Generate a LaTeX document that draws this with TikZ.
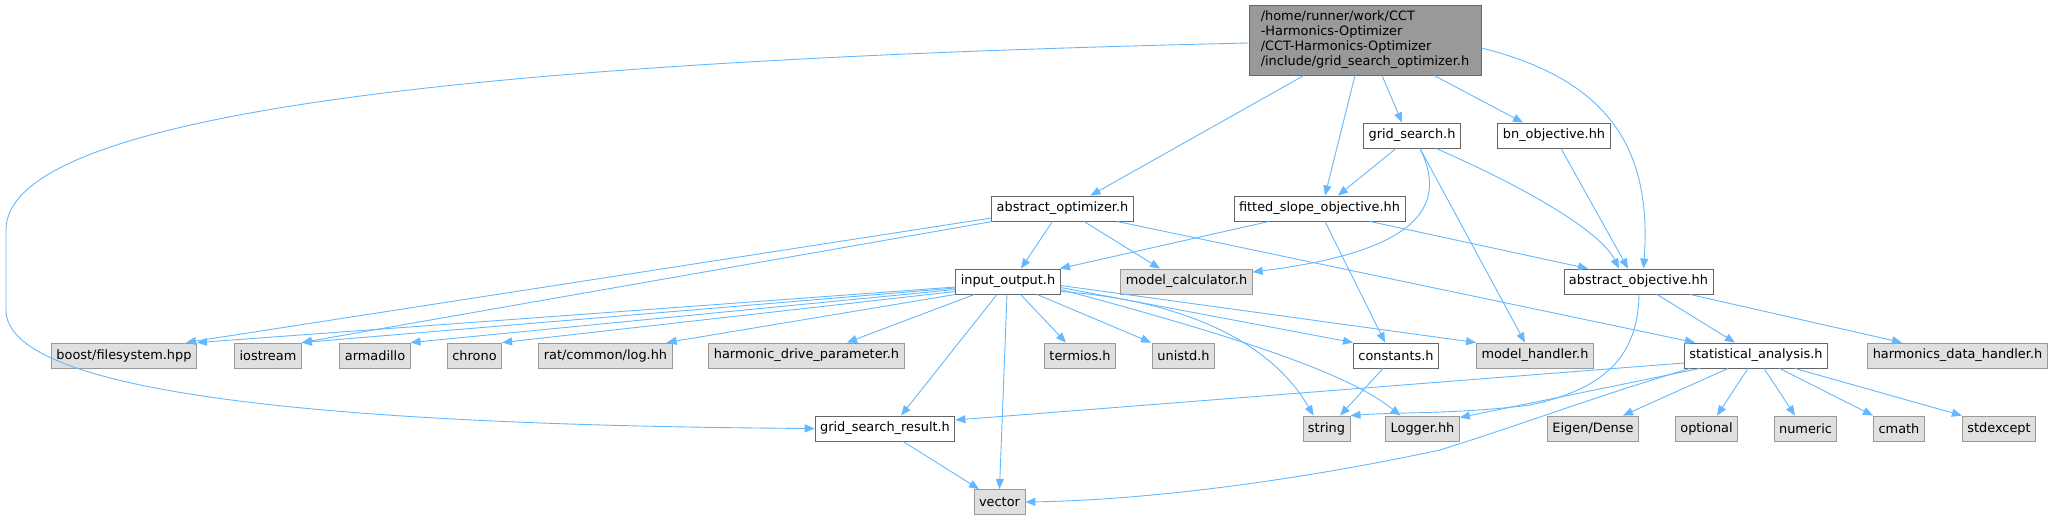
\documentclass[tikz,border=0pt]{standalone}
\usepackage{fontspec}
\setmainfont{DejaVu Sans}
\usepackage{xcolor}
\usetikzlibrary{arrows.meta}
\definecolor{edgeblue}{HTML}{63B8FF}
\definecolor{boxgray}{HTML}{E0E0E0}
\definecolor{linegray}{HTML}{999999}
\definecolor{framedark}{HTML}{666666}
\definecolor{mainfill}{HTML}{999999}

\begin{document}
\begin{tikzpicture}[
  x=1pt, y=-1pt,
  font=\fontsize{12.9}{15}\selectfont,
  file/.style={rectangle, draw=framedark, fill=white,
    line width=0.9pt, minimum height=25pt,
    inner xsep=5pt, inner ysep=0pt},
  sysfile/.style={file, draw=linegray, fill=boxgray},
  mainfile/.style={file, fill=mainfill, align=left,
    minimum width=232pt, minimum height=70pt},
  dep/.style={-{Triangle[length=10pt,width=8pt]},
    draw=edgeblue, line width=0.9pt}
]
\useasboundingbox (0,0) rectangle (2057,520);

\node[mainfile] (main) at (1365,40)
  {/home/runner/work/CCT\\-Harmonics-Optimizer\\/CCT-Harmonics-Optimizer\\/include/grid\_search\_optimizer.h};

\node[file] (gs) at (1412,135.5) {grid\_search.h};
\node[file] (bn) at (1554,135.5) {bn\_objective.hh};
\node[file] (ao) at (1062.5,208.5) {abstract\_optimizer.h};
\node[file] (fs) at (1319.5,208.5) {fitted\_slope\_objective.hh};
\node[file] (io) at (1008,281.5) {input\_output.h};
\node[sysfile] (mc) at (1186.5,281.5) {model\_calculator.h};
\node[file] (aob) at (1638.5,281.5) {abstract\_objective.hh};

\node[sysfile] (boost) at (124,355.5) {boost/filesystem.hpp};
\node[sysfile] (iostream) at (268,355.5) {iostream};
\node[sysfile] (armadillo) at (375,355.5) {armadillo};
\node[sysfile] (chrono) at (474.5,355.5) {chrono};
\node[sysfile] (ratlog) at (605.5,355.5) {rat/common/log.hh};
\node[sysfile] (hdp) at (806.5,355.5) {harmonic\_drive\_parameter.h};
\node[sysfile] (termios) at (1080,355.5) {termios.h};
\node[sysfile] (unistd) at (1183.5,355.5) {unistd.h};
\node[file] (const) at (1396,355.5) {constants.h};
\node[sysfile] (mh) at (1535,355.5) {model\_handler.h};
\node[file] (sa) at (1756,355.5) {statistical\_analysis.h};
\node[sysfile] (hdh) at (1957.5,355.5) {harmonics\_data\_handler.h};

\node[file] (gsr) at (885,428.5) {grid\_search\_result.h};
\node[sysfile] (string) at (1326.5,428.5) {string};
\node[sysfile] (logger) at (1422.5,428.5) {Logger.hh};
\node[sysfile] (eigen) at (1593,428.5) {Eigen/Dense};
\node[sysfile] (optional) at (1706.5,428.5) {optional};
\node[sysfile] (numeric) at (1805.5,428.5) {numeric};
\node[sysfile] (cmath) at (1899,428.5) {cmath};
\node[sysfile] (stdexcept) at (1999,428.5) {stdexcept};

\node[sysfile] (vector) at (999.5,502) {vector};

% grid_search_optimizer.h
\draw[dep] ([yshift=-3]main.west) .. controls (500,60) and (6,110) .. (6,230)
  -- (6,310) .. controls (6,390) and (300,425) .. (gsr.west);
\draw[dep] ([xshift=-61]main.south) -- ([xshift=28]ao.north);
\draw[dep] ([xshift=-10]main.south) -- ([xshift=5.5]fs.north);
\draw[dep] ([xshift=17]main.south) -- ([xshift=-10]gs.north);
\draw[dep] ([xshift=69]main.south) -- ([xshift=-31]bn.north);
\draw[dep] ([yshift=-8]main.east) .. controls (1610,80) and (1652,150)
  .. ([xshift=5]aob.north);

% grid_search.h
\draw[dep] ([xshift=-16]gs.south) -- ([xshift=18.5]fs.north);
\draw[dep] ([xshift=8]gs.south) .. controls (1445,200) and (1430,250)
  .. ([yshift=9.5]mc.east);
\draw[dep] ([xshift=8]gs.south) -- ([xshift=-10]mh.north);
\draw[dep] ([xshift=24]gs.south) .. controls (1520,185) and (1600,230)
  .. ([xshift=-19.5]aob.north);

% bn_objective.hh
\draw[dep] ([xshift=7]bn.south) -- ([xshift=-10.5]aob.north);

% abstract_optimizer.h
\draw[dep] ([yshift=-9.5]ao.west) -- ([xshift=62]boost.north);
\draw[dep] ([xshift=-70]ao.south) -- (iostream.north east);
\draw[dep] ([xshift=-10]ao.south) -- ([xshift=13]io.north);
\draw[dep] ([xshift=21.5]ao.south) -- ([xshift=-26.5]mc.north);
\draw[dep] ([xshift=54.5]ao.south) -- ([xshift=-61]sa.north);

% fitted_slope_objective.hh
\draw[dep] ([xshift=-50.5]fs.south) -- ([xshift=52]io.north);
\draw[dep] ([xshift=5.5]fs.south) -- ([xshift=-11]const.north);
\draw[dep] ([xshift=50.5]fs.south) -- ([xshift=-50.5]aob.north);

% input_output.h
\draw[dep] ([yshift=-5.5]io.west) -- (boost.north east);
\draw[dep] ([yshift=-6.5]io.west) -- (iostream.north east);
\draw[dep] ([yshift=-8]io.west) -- (armadillo.north east);
\draw[dep] ([yshift=-10]io.west) -- (chrono.north east);
\draw[dep] (io.south west) -- ([xshift=-6]ratlog.north east);
\draw[dep] ([xshift=-33.5]io.south) -- ([xshift=40.5]hdp.north);
\draw[dep] ([xshift=-11]io.south) -- ([xshift=16]gsr.north);
\draw[dep] ([xshift=-1]io.south) -- (vector.north);
\draw[dep] ([xshift=12.5]io.south) -- ([xshift=-14]termios.north);
\draw[dep] ([xshift=29]io.south) -- ([xshift=-32.5]unistd.north);
\draw[dep] ([yshift=-4]io.east) -- (mh.north west);
\draw[dep] ([yshift=-6]io.east) -- (const.north west);
\draw[dep] ([yshift=-8]io.east) .. controls (1250,340) and (1350,375)
  .. ([xshift=-22]logger.north);
\draw[dep] ([yshift=-10]io.east) .. controls (1180,300) and (1270,340)
  .. ([xshift=-13]string.north);

% constants.h
\draw[dep] ([xshift=-13]const.south) -- ([xshift=13.5]string.north);

% abstract_objective.hh
\draw[dep] ([xshift=18.5]aob.south) -- ([xshift=-21]sa.north);
\draw[dep] ([xshift=51.5]aob.south) -- ([xshift=-55.5]hdh.north);
\draw[dep] ([xshift=0.5]aob.south) .. controls (1638,360) and (1600,390)
  .. (1530,405) .. controls (1460,414) and (1400,412) .. (string.north east);

% statistical_analysis.h
\draw[dep] ([yshift=-7.5]sa.west) -- ([yshift=8.5]gsr.east);
\draw[dep] ([xshift=-56]sa.south) -- ([yshift=-2]logger.north east);
\draw[dep] ([xshift=-66]sa.south) .. controls (1600,395) and (1520,425)
  .. (1440,450) .. controls (1300,480) and (1150,500) .. (vector.east);
\draw[dep] ([xshift=-28]sa.south) -- ([xshift=30]eigen.north);
\draw[dep] ([xshift=-8]sa.south) -- ([xshift=10.5]optional.north);
\draw[dep] ([xshift=8]sa.south) -- ([xshift=-10.5]numeric.north);
\draw[dep] ([xshift=23.5]sa.south) -- ([xshift=-26]cmath.north);
\draw[dep] ([xshift=39]sa.south) -- (stdexcept.north west);

% grid_search_result.h
\draw[dep] ([xshift=18]gsr.south) -- ([xshift=-20.5]vector.north);
\end{tikzpicture}
\end{document}
